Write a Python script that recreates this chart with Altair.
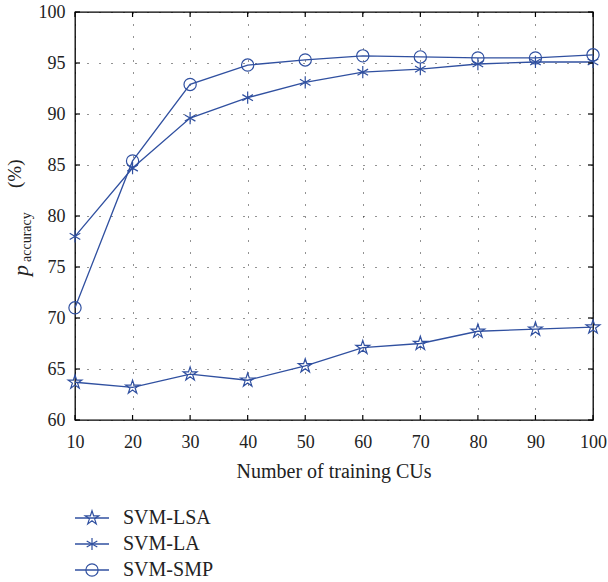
import altair as alt
import pandas as pd

# ---- data ----
x_vals = [10, 20, 30, 40, 50, 60, 70, 80, 90, 100]
series_names = ["SVM-LSA", "SVM-LA", "SVM-SMP"]
lsa = [63.7, 63.2, 64.5, 63.9, 65.3, 67.1, 67.5, 68.7, 68.9, 69.1]
la = [78.0, 84.7, 89.6, 91.6, 93.1, 94.1, 94.4, 94.9, 95.1, 95.1]
smp = [71.0, 85.4, 92.9, 94.8, 95.3, 95.7, 95.6, 95.5, 95.5, 95.8]
x_ticks = [10, 20, 30, 40, 50, 60, 70, 80, 90, 100]
y_ticks = [60, 65, 70, 75, 80, 85, 90, 95, 100]
x_title = "Number of training CUs"

# ---- style ----
FONT = "Liberation Serif"
BLUE = "#3050a0"
TXT = "#222222"
STAR = ("M0,-1L0.223,-0.307L0.951,-0.309L0.361,0.117L0.588,0.809L0,0.38"
        "L-0.588,0.809L-0.361,0.117L-0.951,-0.309L-0.223,-0.307Z")
ASTER = "M0,-1L0,1M-0.866,-0.5L0.866,0.5M-0.866,0.5L0.866,-0.5"
shapes = [STAR, ASTER, "circle"]
sizes = [210, 150, 150]

W, H = 518, 408

rows = []
for name, vals in zip(series_names, [lsa, la, smp]):
    for x, v in zip(x_vals, vals):
        rows.append({"n": x, "acc": v, "series": name})
df = pd.DataFrame(rows)

xs = alt.Scale(domain=[10, 100], nice=False, zero=False)
ys = alt.Scale(domain=[60, 100], nice=False, zero=False)

common_axis = dict(title=None, ticks=False, tickSize=0, domain=False, grid=True,
                   gridColor="black", gridDash=[1, 11], gridWidth=1, gridOpacity=0.85,
                   labelFont=FONT, labelFontSize=18, labelColor=TXT, labelFlush=False,
                   labelOverlap=False)
x_axis = alt.Axis(values=x_ticks, labelPadding=13, **common_axis)
y_axis = alt.Axis(values=y_ticks, labelPadding=10, **common_axis)

X = alt.X("n:Q", scale=xs, axis=x_axis)
Y = alt.Y("acc:Q", scale=ys, axis=y_axis)

layers = []
layers.append(alt.Chart(df).mark_line(color=BLUE, strokeWidth=1.3).encode(
    x=X, y=Y, detail="series:N"))

for name, shp, sz in zip(series_names, shapes, sizes):
    layers.append(alt.Chart(df[df["series"] == name]).mark_point(
        filled=False, color=BLUE, strokeWidth=1.2, opacity=1).encode(
        x=X, y=Y, shape=alt.value(shp), size=alt.value(sz)))

# inward ticks on all four sides
xt = pd.DataFrame({"n": x_ticks})
yt = pd.DataFrame({"acc": y_ticks})
layers.append(alt.Chart(xt).mark_rule(color="black", strokeWidth=1.2).encode(
    x=X, y=alt.value(0), y2=alt.value(5)))
layers.append(alt.Chart(xt).mark_rule(color="black", strokeWidth=1.2).encode(
    x=X, y=alt.value(H), y2=alt.value(H - 5)))
layers.append(alt.Chart(yt).mark_rule(color="black", strokeWidth=1.2).encode(
    y=Y, x=alt.value(0), x2=alt.value(5)))
layers.append(alt.Chart(yt).mark_rule(color="black", strokeWidth=1.2).encode(
    y=Y, x=alt.value(W), x2=alt.value(W - 5)))

one = pd.DataFrame({"k": [0]})

# x title
layers.append(alt.Chart(one).mark_text(font=FONT, fontSize=20, color=TXT,
                                       align="center", baseline="alphabetic").encode(
    x=alt.value(W / 2), y=alt.value(466), text=alt.value(x_title)))

# y title: p_accuracy (%)
layers.append(alt.Chart(one).mark_text(font=FONT, fontSize=22, fontStyle="italic", color=TXT,
                                       align="left", baseline="alphabetic", angle=270).encode(
    x=alt.value(-47), y=alt.value(264), text=alt.value("p")))
layers.append(alt.Chart(one).mark_text(font=FONT, fontSize=14, color=TXT,
                                       align="left", baseline="alphabetic", angle=270).encode(
    x=alt.value(-44), y=alt.value(250), text=alt.value("accuracy")))
layers.append(alt.Chart(one).mark_text(font=FONT, fontSize=19, color=TXT,
                                       align="left", baseline="alphabetic", angle=270).encode(
    x=alt.value(-54), y=alt.value(176), text=alt.value("(%)")))

# legend
for i, (name, shp, sz) in enumerate(zip(series_names, shapes, sizes)):
    ly = 506 + 26 * i
    ld = pd.DataFrame({"series": [name]})
    layers.append(alt.Chart(ld).mark_rule(color=BLUE, strokeWidth=1.3).encode(
        x=alt.value(0), x2=alt.value(34), y=alt.value(ly)))
    layers.append(alt.Chart(ld).mark_point(filled=False, color=BLUE, strokeWidth=1.2, opacity=1).encode(
        x=alt.value(17), y=alt.value(ly), shape=alt.value(shp), size=alt.value(sz)))
    layers.append(alt.Chart(ld).mark_text(font=FONT, fontSize=20, color=TXT,
                                          align="left", baseline="middle").encode(
        x=alt.value(48), y=alt.value(ly), text="series:N"))

chart = alt.layer(*layers).properties(
    width=W, height=H,
    padding={"left": 75, "top": 12, "right": 15, "bottom": 162},
    autosize=alt.AutoSizeParams(type="none"),
    background="white",
).configure_view(stroke="black", strokeWidth=1.3)

chart.save("out.html", embed_options={"renderer": "svg", "actions": False})
